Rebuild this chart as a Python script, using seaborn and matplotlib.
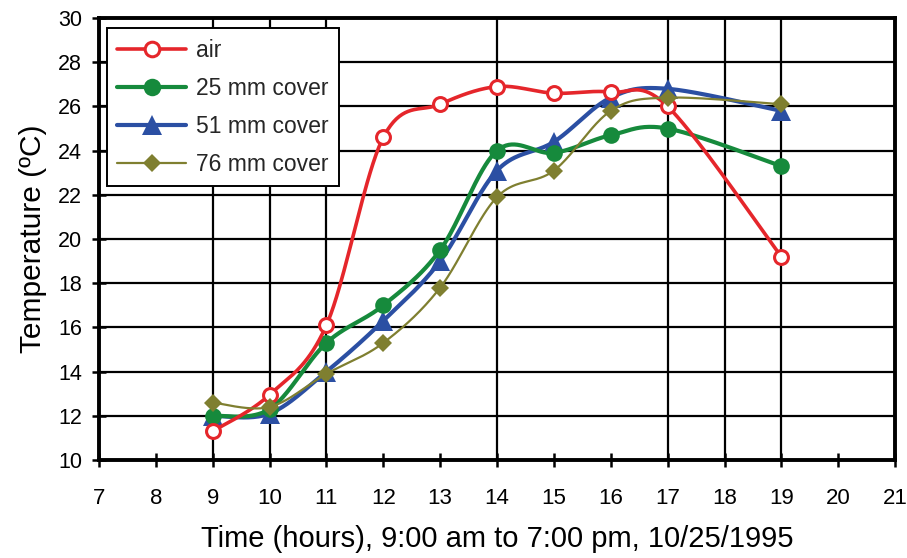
import numpy as np
import pandas as pd
import matplotlib
matplotlib.use("Agg")
import matplotlib.pyplot as plt
from matplotlib.lines import Line2D
import seaborn as sns

hours = [9, 10, 11, 12, 13, 14, 15, 16, 17, 19]
air = [11.3, 12.95, 16.1, 24.6, 26.1, 26.9, 26.6, 26.65, 26.0, 19.2]
cover25 = [12.0, 12.3, 15.3, 17.0, 19.5, 24.0, 23.9, 24.7, 25.0, 23.3]
cover51 = [12.0, 12.1, 14.0, 16.3, 19.0, 23.1, 24.4, 26.4, 26.8, 25.8]
cover76 = [12.6, 12.4, 13.9, 15.3, 17.8, 21.9, 23.1, 25.8, 26.4, 26.1]
series_names = ["air", "25 mm cover", "51 mm cover", "76 mm cover"]
x_ticks = list(range(7, 22))
y_ticks = list(range(10, 31, 2))
vgrid = [9, 10, 11, 14, 17, 18, 19]


def smooth(xs, ys, n=40):
    P = np.column_stack([xs, ys]).astype(float)
    P = np.vstack([P[0], P, P[-1]])
    out = []
    for i in range(1, len(P) - 2):
        p0, p1, p2, p3 = P[i - 1], P[i], P[i + 1], P[i + 2]
        c1 = p1 + (p2 - p0) / 6.0
        c2 = p2 - (p3 - p1) / 6.0
        t = np.linspace(0, 1, n)[:, None]
        seg = ((1 - t) ** 3) * p1 + 3 * ((1 - t) ** 2) * t * c1 + 3 * (1 - t) * t ** 2 * c2 + t ** 3 * p2
        out.append(seg if i == 1 else seg[1:])
    a = np.vstack(out)
    return a[:, 0], a[:, 1]


sns.set_theme(style="white")
plt.rcParams["font.family"] = ["Liberation Sans", "DejaVu Sans"]

fig = plt.figure(figsize=(9.07, 5.58), dpi=100)
ax = fig.add_axes([0.109, 0.1756, 0.878, 0.792])

styles = [
    dict(color="#E5262B", lw=2.6, marker="o", ms=10, mfc="white", mew=2.2, zorder=6),
    dict(color="#168A3C", lw=3.0, marker="o", ms=12, mfc="#168A3C", mew=0, zorder=5),
    dict(color="#2B4FA3", lw=3.0, marker="^", ms=14, mfc="#2B4FA3", mew=0, zorder=4),
    dict(color="#7F7F30", lw=1.6, marker="D", ms=9, mfc="#7F7F30", mew=0, zorder=7),
]
data = [air, cover25, cover51, cover76]

handles = []
for name, vals, st in zip(series_names, data, styles):
    sx, sy = smooth(hours, vals)
    sns.lineplot(x=sx, y=sy, sort=False, estimator=None, ax=ax,
                 color=st["color"], lw=st["lw"], zorder=st["zorder"])
    ax.plot(hours, vals, linestyle="none", marker=st["marker"], ms=st["ms"],
            mfc=st["mfc"], mec=st["color"], mew=st["mew"], zorder=st["zorder"] + 0.5)
    handles.append(Line2D([], [], color=st["color"], lw=st["lw"], marker=st["marker"],
                          ms=st["ms"] * 1.05, mfc=st["mfc"], mec=st["color"], mew=st["mew"]))

ax.set_xlim(7, 21)
ax.set_ylim(10, 30)
ax.set_xticks(x_ticks)
ax.set_yticks(y_ticks)
ax.set_xticklabels([str(v) for v in x_ticks])
ax.set_yticklabels([str(v) for v in y_ticks])

for y in y_ticks[1:-1]:
    ax.axhline(y, color="black", lw=1.6, zorder=1)
for x in vgrid:
    ax.axvline(x, color="black", lw=1.6, zorder=1)

for s in ax.spines.values():
    s.set_visible(True)
    s.set_color("black")
    s.set_linewidth(2.8)

ax.tick_params(axis="both", direction="inout", length=10, width=1.8, color="black",
               labelcolor="black", left=True, bottom=True)
ax.tick_params(axis="x", pad=15, labelsize=16)
ax.tick_params(axis="y", pad=7, labelsize=15.5)

ax.set_xlabel("Time (hours), 9:00 am to 7:00 pm, 10/25/1995", fontsize=21, labelpad=12, color="black")
ax.set_ylabel("Temperature (ºC)", fontsize=21.5, labelpad=8, color="black")

leg = ax.legend(handles, series_names, loc="upper left", bbox_to_anchor=(0.010, 0.977),
                fontsize=16.5, frameon=True, fancybox=False, framealpha=1,
                edgecolor="black", handlelength=3.0, labelspacing=0.66,
                borderpad=0.45, handletextpad=0.45, borderaxespad=0)
leg.get_frame().set_linewidth(1.4)
leg.set_zorder(10)

fig.savefig("out.png", dpi=100)
